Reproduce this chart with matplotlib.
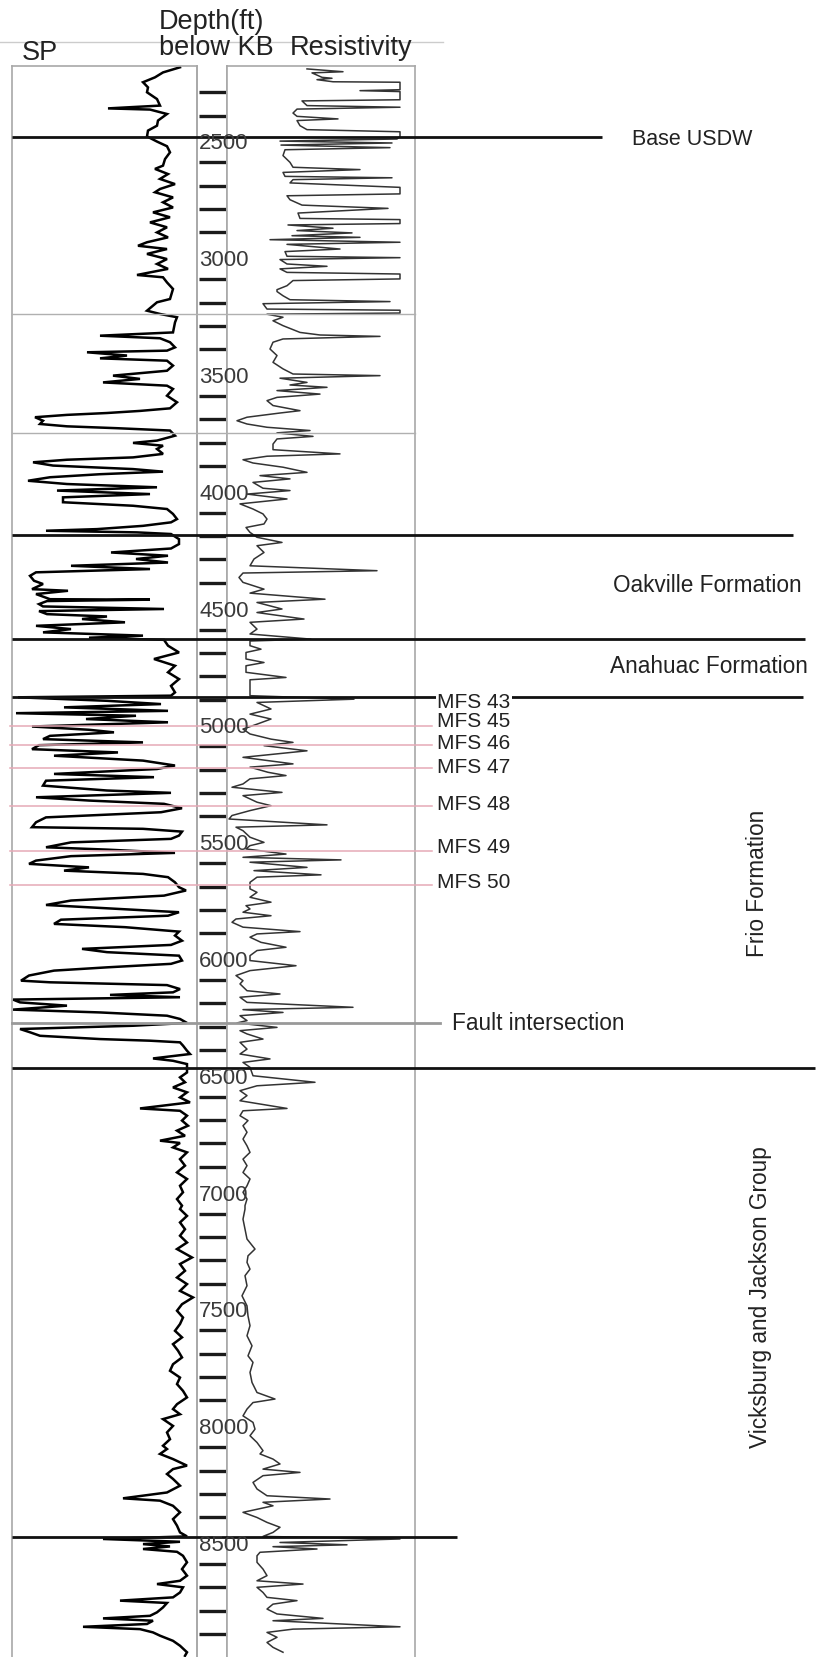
import matplotlib
matplotlib.use("Agg")
import matplotlib.pyplot as plt
from matplotlib.lines import Line2D

plt.rcParams['font.family'] = ['Liberation Sans', 'DejaVu Sans']

# ---------------- data ----------------
sp_depth_ft = [2193, 2215, 2236, 2257, 2279, 2300, 2329, 2357, 2369, 2374, 2393, 2421, 2443, 2464, 2489, 2511, 2531, 2557, 2586, 2614, 2628, 2650, 2671, 2693, 2714, 2728, 2750, 2771, 2793, 2814, 2835, 2857, 2878, 2900, 2921, 2942, 2957, 2971, 2992, 3014, 3035, 3056, 3082, 3092, 3114, 3142,
               3185, 3199, 3235, 3249, 3263, 3285, 3328, 3342, 3353, 3370, 3392, 3406, 3413, 3427, 3439, 3449, 3470, 3492, 3513, 3527, 3542, 3556, 3570, 3599, 3627, 3653, 3664, 3673, 3681, 3691, 3706, 3720, 3730, 3738, 3748, 3770, 3791, 3801, 3813, 3827, 3848, 3863, 3873, 3884, 3898, 3913, 3924, 3935, 3948, 3963, 3977, 3991, 4005, 4020, 4034, 4055, 4070, 4084, 4105, 4127,
               4141, 4156, 4170, 4177, 4184, 4191, 4213, 4234, 4253, 4270, 4284, 4298, 4313, 4327, 4341, 4355, 4370, 4391, 4405, 4427, 4434, 4448, 4470, 4472, 4478, 4491, 4501, 4512, 4521, 4534, 4544, 4555, 4569, 4584, 4598, 4612, 4626, 4635, 4644, 4669, 4698, 4726, 4755, 4783, 4812, 4841, 4869, 4883, 4890, 4905, 4919, 4933, 4948, 4958, 4969, 4983, 4997, 5015, 5029, 5040, 5055, 5069, 5083, 5095, 5112, 5126,
               5140, 5161, 5182, 5197, 5218, 5232, 5247, 5268, 5289, 5299, 5318, 5332, 5346, 5365, 5382, 5404, 5425, 5446, 5453, 5465, 5482, 5496, 5511, 5532, 5542, 5556, 5570, 5589, 5603, 5618, 5632, 5646, 5660, 5682, 5703, 5717, 5739, 5760, 5779, 5789, 5810, 5825, 5842, 5860, 5874, 5893, 5910, 5932, 5950, 5967, 5981, 5996, 6017, 6031, 6046, 6060, 6081, 6103,
               6110, 6122, 6139, 6153, 6164, 6174, 6184, 6196, 6210, 6227, 6239, 6253, 6267, 6284, 6296, 6310, 6324, 6339, 6353, 6360, 6367, 6381, 6403, 6417, 6436, 6446, 6460, 6478, 6496, 6517, 6538, 6560, 6581, 6603, 6624, 6650, 6660, 6681, 6702, 6724, 6745, 6767, 6788, 6798, 6817, 6838, 6867, 6895, 6924, 6952, 6981, 7009, 7038, 7066,
               7081, 7110, 7138, 7167, 7195, 7224, 7252, 7288, 7316, 7345, 7374, 7402, 7431, 7459, 7488, 7516, 7545, 7573, 7602, 7630, 7659, 7687, 7716, 7745, 7773, 7802, 7830, 7859, 7887, 7916, 7937, 7959, 7980, 8009, 8037, 8066, 8094,
               8108, 8129, 8151, 8179, 8194, 8215, 8236, 8265, 8294, 8319, 8329, 8351, 8379, 8408, 8436, 8465, 8482, 8493, 8505, 8515, 8525, 8536, 8548, 8565, 8593, 8622, 8650, 8672, 8686, 8700, 8722, 8743, 8757, 8767, 8786, 8807, 8822, 8833, 8843, 8857, 8869, 8879, 8893, 8907, 8929, 8950, 8978, 8993]
sp_mv = [-17, -34, -42, -54, -49, -50, -40, -37, -89, -47, -30, -39, -40, -49, -50, -40, -30, -27, -32, -34, -42, -29, -37, -22, -37, -42, -24, -34, -24, -44, -27, -47, -30, -40, -29, -50, -59, -30, -50, -30, -40, -29, -60, -34, -30, -24,
         -27, -40, -50, -37, -20, -22, -24, -97, -37, -27, -22, -30, -110, -70, -97, -30, -24, -30, -84, -57, -94, -30, -24, -30, -20, -27, -57, -90, -130, -162, -154, -157, -130, -80, -27, -22, -40, -64, -34, -40, -34, -64, -130, -164, -144, -64, -34, -97, -147, -169, -130, -40, -140, -47, -134, -134, -64, -30, -24, -20,
         -26, -54, -100, -151, -60, -26, -18, -18, -26, -86, -29, -61, -29, -126, -47, -161, -167, -163, -154, -165, -129, -161, -147, -47, -150, -158, -154, -33, -158, -150, -90, -115, -72, -161, -126, -154, -54, -108, -33, -29, -18, -43, -22, -29, -18, -26, -22, -26, -179, -90, -36, -133, -29, -181, -61, -111, -29, -165, -108, -83, -147, -154, -54, -158, -165, -79,
         -143, -54, -22, -40, -143, -43, -151, -154, -90, -26, -161, -108, -33, -15, -36, -151, -161, -165, -54, -15, -18, -26, -126, -151, -90, -22, -126, -161, -168, -108, -133, -54, -29, -22, -18, -11, -33, -126, -151, -108, -18, -29, -136, -143, -72, -18, -22, -15, -26, -115, -90, -18, -15, -26, -90, -143, -168, -176,
         -147, -30, -17, -24, -87, -17, -184, -177, -130, -184, -97, -30, -17, -10, -64, -177, -167, -157, -97, -47, -17, -14, -10, -7, -44, -24, -10, -10, -10, -17, -12, -24, -10, -17, -7, -57, -17, -10, -15, -9, -20, -12, -37, -17, -24, -10, -17, -12, -20, -10, -17, -14, -20, -15,
         -17, -10, -17, -12, -17, -10, -20, -5, -17, -12, -20, -10, -17, -4, -15, -20, -14, -17, -22, -15, -24, -19, -15, -24, -27, -17, -20, -14, -10, -20, -24, -17, -34, -24, -30, -27, -34,
         -30, -37, -24, -10, -24, -30, -24, -17, -30, -74, -37, -24, -17, -24, -20, -17, -10, -94, -17, -54, -27, -54, -20, -14, -10, -15, -10, -17, -40, -14, -17, -24, -77, -30, -34, -40, -47, -94, -44, -50, -114, -57, -44, -37, -24, -17, -10, -12]

res_depth_ft = [2200, 2212, 2217, 2236, 2240, 2246, 2255, 2257, 2289, 2293, 2297, 2332, 2337, 2357, 2364, 2372, 2389, 2403, 2414, 2421, 2443, 2460, 2469, 2489, 2500, 2509, 2517, 2526, 2537, 2546, 2571, 2600, 2621, 2631, 2643, 2660, 2666, 2674, 2688, 2707, 2735, 2743, 2760, 2783, 2797, 2817, 2840, 2845, 2862, 2868, 2882, 2892, 2902, 2914, 2921, 2931, 2942, 2951, 2971, 2982, 3002, 3008, 3016, 3035, 3045, 3056, 3071, 3078, 3099, 3106, 3128, 3145,
                3153, 3171, 3188, 3196, 3205, 3228, 3233, 3245, 3250, 3263, 3278, 3299, 3328, 3339, 3345, 3356, 3370, 3399, 3427, 3456, 3484, 3506, 3513, 3524, 3542, 3553, 3563, 3577, 3592, 3606, 3620, 3641, 3663, 3673, 3691, 3706, 3720, 3734, 3748, 3758, 3773, 3784, 3806, 3830, 3848, 3858, 3873, 3887, 3905, 3927, 3941, 3955, 3970, 3995, 4005, 4020, 4041, 4062, 4084, 4105, 4127,
                4148, 4163, 4184, 4205, 4227, 4241, 4270, 4298, 4327, 4348, 4358, 4377, 4398, 4427, 4444, 4470, 4484, 4512, 4527, 4555, 4569, 4598, 4619, 4641, 4649, 4669, 4684, 4698, 4726, 4741, 4755, 4783, 4805, 4815, 4883, 4898, 4912, 4940, 4962, 4983, 5005, 5026, 5047, 5069, 5083, 5097, 5119,
                5147, 5175, 5189, 5211, 5225, 5239, 5261, 5275, 5297, 5311, 5325, 5339, 5354, 5375, 5396, 5411, 5436, 5446, 5461, 5489, 5511, 5525, 5539, 5561, 5575, 5586, 5596, 5618, 5632, 5650, 5660, 5682, 5710, 5725, 5746, 5767, 5782, 5796, 5810, 5825, 5839, 5853, 5874, 5893, 5903, 5917, 5939, 5960, 5974, 5996, 6017, 6039, 6060, 6081, 6103,
                6117, 6146, 6160, 6174, 6196, 6217, 6227, 6239, 6253, 6274, 6284, 6303, 6317, 6331, 6353, 6367, 6396, 6417, 6438, 6453, 6474, 6510, 6538, 6553, 6574, 6595, 6617, 6650, 6660, 6681, 6702, 6724, 6752, 6781, 6810, 6838, 6867, 6895, 6924, 6952, 6981, 7009, 7038, 7066,
                7081, 7124, 7167, 7209, 7252, 7281, 7309, 7338, 7366, 7409, 7452, 7495, 7538, 7580, 7623, 7666, 7709, 7737, 7780, 7823, 7866, 7894, 7909, 7937, 7966, 7994, 8023, 8051, 8080,
                8115, 8129, 8151, 8172, 8194, 8208, 8222, 8251, 8279, 8308, 8322, 8336, 8351, 8379, 8401, 8422, 8443, 8465, 8482, 8493, 8508, 8518, 8526, 8536, 8550, 8565, 8593, 8622, 8650, 8672, 8686, 8700, 8722, 8743, 8757, 8772, 8793, 8814, 8833, 8843, 8869, 8879, 8893, 8914, 8936, 8957, 8978]
res_ohmm = [8.0, 11.6, 8.5, 9.5, 10.5, 9.0, 10.6, 17.3, 17.3, 13.3, 17.3, 17.3, 7.5, 8.0, 17.3, 7.0, 6.6, 7.0, 11.1, 7.0, 7.3, 8.0, 17.3, 17.3, 17.0, 5.3, 16.5, 5.4, 16.3, 5.8, 5.6, 6.3, 6.6, 13.3, 5.6, 5.8, 16.5, 6.6, 6.3, 17.3, 17.3, 6.0, 6.3, 7.5, 16.1, 7.1, 7.3, 17.3, 17.3, 6.1, 10.6, 7.0, 12.5, 6.5, 13.3, 4.3, 17.3, 6.0, 11.3, 5.8, 6.0, 17.3, 5.3, 6.0, 10.0, 5.3, 6.0, 17.3, 17.3, 6.6, 6.0, 5.0,
            5.0, 5.6, 6.3, 16.3, 3.6, 4.0, 17.3, 17.3, 4.0, 5.6, 4.6, 5.6, 7.3, 9.3, 15.3, 5.6, 4.6, 4.3, 5.0, 4.6, 5.6, 6.6, 15.3, 5.3, 8.0, 6.3, 10.0, 5.0, 9.3, 5.0, 4.0, 4.6, 7.3, 5.3, 2.0, 1.0, 2.0, 4.0, 8.3, 5.0, 8.6, 5.0, 4.6, 4.6, 11.3, 4.0, 1.6, 2.6, 5.6, 8.0, 3.3, 6.3, 2.6, 3.6, 6.3, 2.0, 6.0, 1.3, 2.6, 3.6, 4.0,
            3.7, 1.9, 2.3, 3.0, 5.5, 3.0, 3.7, 2.7, 2.3, 15.0, 1.6, 1.2, 1.6, 3.7, 2.3, 9.8, 3.0, 5.5, 3.0, 7.7, 2.3, 3.0, 2.3, 8.4, 2.3, 2.3, 3.4, 1.9, 1.9, 3.7, 1.9, 1.9, 5.9, 2.3, 2.3, 12.7, 3.0, 4.4, 2.3, 4.4, 3.0, 1.6, 2.3, 4.4, 6.6, 3.7, 8.0,
            1.6, 6.6, 2.3, 4.1, 5.9, 2.3, 1.6, 0.5, 5.5, 1.6, 2.3, 3.0, 4.4, 2.3, 0.5, 0.2, 10.0, 0.9, 1.6, 2.3, 3.7, 2.3, 1.9, 5.9, 1.6, 11.4, 2.3, 8.0, 2.7, 9.4, 3.0, 2.3, 2.3, 3.0, 2.3, 4.4, 1.9, 2.3, 1.6, 4.4, 0.9, 0.5, 1.6, 7.3, 3.0, 2.3, 3.4, 5.9, 3.0, 2.3, 2.3, 6.9, 2.3, 0.9, 1.6,
            1.3, 2.0, 5.3, 1.3, 2.0, 12.6, 1.6, 5.6, 1.3, 2.0, 1.0, 5.0, 1.3, 2.0, 3.6, 1.3, 2.0, 1.3, 4.3, 1.6, 2.3, 2.6, 8.8, 3.0, 1.3, 2.0, 1.3, 6.0, 1.6, 1.3, 2.1, 1.6, 2.0, 1.6, 2.0, 2.3, 1.6, 2.0, 1.6, 2.3, 2.0, 1.6, 2.0, 1.8,
            1.8, 1.6, 1.8, 2.0, 2.8, 2.1, 2.0, 2.3, 1.8, 2.0, 1.5, 2.0, 2.1, 2.3, 2.0, 2.5, 2.1, 2.6, 2.3, 2.5, 3.0, 4.8, 2.6, 2.0, 1.6, 2.6, 2.8, 2.3, 3.0,
            3.6, 3.3, 4.6, 5.3, 3.6, 7.3, 3.6, 2.6, 3.0, 4.0, 10.3, 3.6, 4.6, 1.6, 3.0, 4.0, 5.3, 4.6, 3.6, 17.3, 5.3, 12.0, 4.6, 9.0, 3.3, 3.0, 3.0, 3.6, 4.0, 3.0, 7.6, 3.0, 3.6, 4.0, 7.0, 4.6, 4.0, 5.0, 9.6, 4.6, 17.3, 6.6, 4.0, 5.0, 4.0, 4.6, 5.6]

depth_label_ft = [2500, 3000, 3500, 4000, 4500, 5000, 5500, 6000, 6500, 7000, 7500, 8000, 8500]
depth_tick_ft = [d for d in range(2300, 9000, 100) if d % 500 != 0]

# formation / marker tops (ft)
black_tops = {"Base USDW": 2490, "top_oakville": 4195, "top_anahuac": 4642,
              "MFS 43": 4887, "top_vicksburg": 6475, "marker_8500": 8486}
gray_tops = [3250, 3760]
mfs_names = ["MFS 45", "MFS 46", "MFS 47", "MFS 48", "MFS 49", "MFS 50"]
mfs_tops = [5011, 5093, 5193, 5354, 5546, 5693]
fault_depth = 6284

# ---------------- layout ----------------
W, H, DPI = 819, 1658, 100
PX_PER_FT = 0.2336
Y2500 = 140.0


def depth_at(ypx):
    return 2500 + (ypx - Y2500) / PX_PER_FT


D_TOP_FIG = depth_at(0)
D_BOT = depth_at(H)
TRACK_TOP = 67
D_TOP_TRACK = depth_at(TRACK_TOP)
FT_PER_PX = 1 / PX_PER_FT

fig = plt.figure(figsize=(W / DPI, H / DPI), dpi=DPI)
fig.patch.set_facecolor('white')

SPINE = '#a8a8a8'


def track(x0, x1):
    ax = fig.add_axes([x0 / W, 0, (x1 - x0) / W, (H - TRACK_TOP) / H])
    ax.set_ylim(D_BOT, D_TOP_TRACK)
    ax.set_xticks([])
    ax.set_yticks([])
    for s in ax.spines.values():
        s.set_color(SPINE)
        s.set_linewidth(1.2)
    ax.spines['bottom'].set_visible(False)
    return ax


ax_sp = track(12, 197)
ax_sp.set_xlim(-185, 0)
ax_sp.plot(sp_mv, sp_depth_ft, color='black', lw=1.8, solid_joinstyle='miter')

ax_dp = track(197, 227)
ax_dp.set_xlim(0, 1)
ax_dp.spines['top'].set_visible(False)
ax_dp.patch.set_alpha(0)
ax_dp.hlines(depth_tick_ft, 0.07, 0.97, color='#1a1a1a', lw=2.4)

ax_rs = track(227, 415)
ax_rs.set_xlim(0, 18.8)
ax_rs.plot(res_ohmm, res_depth_ft, color='#333333', lw=1.1)

# overlay for markers and labels (x in page pixels, y in depth)
ov = fig.add_axes([0, 0, 1, 1], facecolor='none')
ov.set_xlim(0, W)
ov.set_ylim(D_BOT, D_TOP_FIG)
ov.axis('off')

line_ext = {"Base USDW": 602, "top_oakville": 793, "top_anahuac": 805,
            "MFS 43": 803, "top_vicksburg": 815, "marker_8500": 457}
for name, d in black_tops.items():
    ov.plot([12, line_ext[name]], [d, d], color='#111111', lw=2.0, solid_capstyle='butt')
for d in gray_tops:
    ov.plot([12, 415], [d, d], color='#b0b0b0', lw=1.0)
for d in mfs_tops:
    ov.plot([10, 432], [d, d], color='#e6a9b6', lw=1.1)
ov.plot([12, 440], [fault_depth, fault_depth], color='#999999', lw=2.0)

TXT = '#222222'
LBL = 16.3
MFS_FS = 15
ov.text(632, black_tops["Base USDW"] + 2 * FT_PER_PX, "Base USDW", fontsize=15.5, color=TXT, va='center', ha='left')
ov.text(437, black_tops["MFS 43"] + 5 * FT_PER_PX, "MFS 43", fontsize=MFS_FS, color=TXT, va='center', ha='left',
        bbox=dict(facecolor='white', edgecolor='none', pad=1.0))
mfs_offsets_px = [-5, -2, -2, -2, -4, -3]
for name, d, off in zip(mfs_names, mfs_tops, mfs_offsets_px):
    ov.text(437, d + off * FT_PER_PX, name, fontsize=MFS_FS, color=TXT, va='center', ha='left')
ov.text(452, fault_depth, "Fault intersection", fontsize=LBL, color=TXT, va='center', ha='left')
ov.text(613, depth_at(586), "Oakville Formation", fontsize=LBL, color=TXT, va='center', ha='left')
ov.text(610, depth_at(667), "Anahuac Formation", fontsize=LBL, color=TXT, va='center', ha='left')
ov.text(758, depth_at(883), "Frio Formation", fontsize=LBL, color=TXT, va='center', ha='center', rotation=90)
ov.text(760, depth_at(1297), "Vicksburg and Jackson Group", fontsize=LBL, color=TXT, va='center', ha='center', rotation=90)

for d in depth_label_ft:
    ov.text(199, d + 4 * FT_PER_PX, str(d), fontsize=16, color='#3a3a3a', va='center', ha='left')

# header
fig.add_artist(Line2D([0, 443 / W], [1 - 43 / H, 1 - 43 / H], color='#cccccc', lw=1.0))
HDR = 19.5
fig.text(22 / W, 1 - 53 / H, "SP", fontsize=HDR, color=TXT, va='center', ha='left')
fig.text(159 / W, 1 - 22 / H, "Depth(ft)", fontsize=HDR, color=TXT, va='center', ha='left')
fig.text(159 / W, 1 - 48 / H, "below KB", fontsize=HDR, color=TXT, va='center', ha='left')
fig.text(290 / W, 1 - 48 / H, "Resistivity", fontsize=HDR, color=TXT, va='center', ha='left')

fig.savefig("out.png", dpi=DPI, facecolor='white')
